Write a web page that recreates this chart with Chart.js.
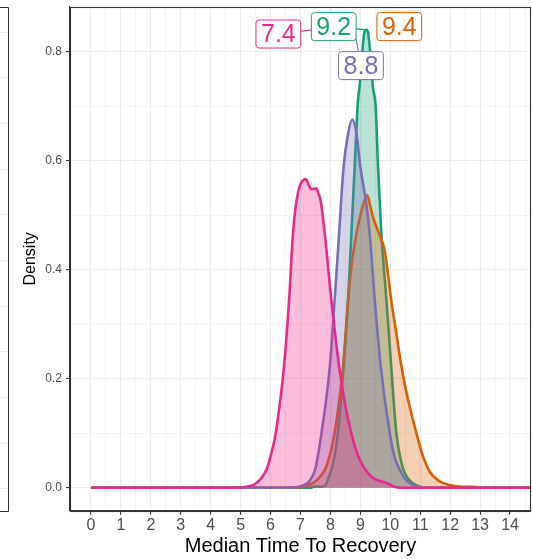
<!DOCTYPE html>
<html>
<head>
<meta charset="utf-8">
<script src="https://cdn.jsdelivr.net/npm/chart.js@4.4.1/dist/chart.umd.min.js"></script>
<style>
  html, body { margin: 0; padding: 0; background: #fff; }
  #wrap { width: 533px; height: 559px; }
</style>
</head>
<body>
<div id="wrap"><canvas id="chart" width="533" height="559"></canvas></div>
<script>
// density curves: x = median time to recovery, y = density
const greenX = [0, 7.3, 7.55, 7.7, 7.82, 7.95, 8.09, 8.25, 8.44, 8.59, 8.7, 8.81, 8.92, 8.98, 9.05, 9.13, 9.2, 9.26, 9.34, 9.42, 9.51, 9.59, 9.7, 9.87, 10.03, 10.2, 10.4, 10.55, 10.75, 11.0, 11.3, 14.7];
const greenY = [0, 0, 0.003, 0.002, 0.004, 0.02, 0.045, 0.101, 0.223, 0.345, 0.467, 0.589, 0.711, 0.74, 0.79, 0.835, 0.8406, 0.835, 0.79, 0.735, 0.70, 0.589, 0.467, 0.345, 0.223, 0.101, 0.04, 0.02, 0.009, 0.002, 0, 0];

const orangeX = [0, 6.8, 7.1, 7.4, 7.65, 7.87, 8.14, 8.42, 8.59, 8.7, 8.87, 9.0, 9.14, 9.23, 9.32, 9.42, 9.6, 9.81, 9.89, 10.03, 10.2, 10.37, 10.59, 10.87, 11.05, 11.31, 11.64, 11.98, 12.4, 12.8, 13.1, 14.7];
const orangeY = [0, 0, 0.002, 0.008, 0.02, 0.04, 0.101, 0.223, 0.345, 0.406, 0.467, 0.5, 0.528, 0.537, 0.52, 0.497, 0.47, 0.436, 0.406, 0.345, 0.284, 0.223, 0.162, 0.101, 0.065, 0.03, 0.012, 0.005, 0.002, 0.002, 0, 0];

const purpleX = [0, 6.6, 6.95, 7.15, 7.31, 7.5, 7.7, 7.98, 8.14, 8.29, 8.44, 8.59, 8.73, 8.87, 9.0, 9.1, 9.18, 9.31, 9.48, 9.68, 9.98, 10.15, 10.3, 10.45, 10.64, 10.9, 11.2, 14.7];
const purpleY = [0, 0, 0.002, 0.006, 0.013, 0.036, 0.1, 0.223, 0.345, 0.467, 0.589, 0.65, 0.676, 0.65, 0.589, 0.555, 0.528, 0.467, 0.345, 0.223, 0.101, 0.055, 0.035, 0.02, 0.009, 0.002, 0, 0];

const pinkX = [0, 4.8, 5.2, 5.45, 5.65, 5.87, 6.03, 6.14, 6.3, 6.45, 6.62, 6.75, 6.87, 7.0, 7.1, 7.18, 7.27, 7.37, 7.53, 7.6, 7.67, 7.81, 8.03, 8.29, 8.5, 8.72, 8.9, 9.09, 9.42, 9.87, 10.2, 10.5, 14.7];
const pinkY = [0, 0, 0.002, 0.006, 0.015, 0.034, 0.064, 0.09, 0.15, 0.223, 0.345, 0.467, 0.528, 0.558, 0.565, 0.567, 0.556, 0.548, 0.55, 0.54, 0.528, 0.467, 0.345, 0.223, 0.15, 0.095, 0.062, 0.04, 0.018, 0.009, 0.001, 0, 0];

const xTicks = [0, 0.5, 1, 1.5, 2, 2.5, 3, 3.5, 4, 4.5, 5, 5.5, 6, 6.5, 7, 7.5, 8, 8.5, 9, 9.5, 10, 10.5, 11, 11.5, 12, 12.5, 13, 13.5, 14, 14.5];
const yTicks = [0, 0.1, 0.2, 0.3, 0.4, 0.5, 0.6, 0.7, 0.8];

// median labels (ggrepel style), anchored at the highest density
const medianText = ['7.4', '9.2', '9.4', '8.8'];
const medianX = [7.4, 9.2, 9.4, 8.8];
const labelPosX = [6.26, 8.11, 10.30, 9.02];
const labelPosY = [0.833, 0.8465, 0.8465, 0.775];
const peakY = 0.8406;

const FONT = 'Liberation Sans, Arial, Helvetica, sans-serif';
const colors = ['#E7298A', '#1B9E77', '#D95F02', '#7570B3']; // same order as medianText

const toPoints = (xs, ys) => xs.map((x, i) => ({ x: x, y: ys[i] }));

const fade = (hex) => {
    const n = parseInt(hex.slice(1), 16);
    return 'rgba(' + (n >> 16) + ',' + ((n >> 8) & 255) + ',' + (n & 255) + ',0.3)';
};

const curve = (xs, ys, color, order) => ({
    data: toPoints(xs, ys),
    borderColor: color,
    backgroundColor: fade(color),
    borderWidth: 2.6,
    pointRadius: 0,
    fill: 'origin',
    cubicInterpolationMode: 'monotone',
    order: order
});

// frame of the cut-off neighbour panel and the border of this one
const panelFrame = {
    id: 'panelFrame',
    beforeDraw(chart) {
        const { ctx, chartArea: a } = chart;
        ctx.save();
        ctx.strokeStyle = '#EBEBEB';
        ctx.lineWidth = 1;
        for (let k = 0; k <= 10; k++) {
            const y = Math.round(31.7 + k * 45.66) + 0.5;
            ctx.beginPath();
            ctx.moveTo(0, y);
            ctx.lineTo(8, y);
            ctx.stroke();
        }
        ctx.strokeStyle = '#333333';
        ctx.beginPath();
        ctx.moveTo(0, Math.round(a.top) + 0.5);
        ctx.lineTo(8.5, Math.round(a.top) + 0.5);
        ctx.lineTo(8.5, Math.round(a.bottom) + 0.5);
        ctx.lineTo(0, Math.round(a.bottom) + 0.5);
        ctx.stroke();
        ctx.restore();
    },
    afterDraw(chart) {
        const { ctx, chartArea: a } = chart;
        ctx.save();
        ctx.strokeStyle = '#333333';
        ctx.lineWidth = 1.1;
        ctx.strokeRect(Math.round(a.left) + 0.5, Math.round(a.top) + 0.5,
            Math.round(a.right - a.left) - 1, Math.round(a.bottom - a.top));
        ctx.restore();
    }
};

const medianLabels = {
    id: 'medianLabels',
    afterDatasetsDraw(chart) {
        const { ctx, scales: { x, y } } = chart;
        const size = 25, pad = 5, h = 28;
        ctx.save();
        ctx.font = size + 'px ' + FONT;
        const boxes = medianText.map((t, i) => {
            const w = ctx.measureText(t).width + pad * 2;
            return { t: t, w: w, cx: x.getPixelForValue(labelPosX[i]), cy: y.getPixelForValue(labelPosY[i]),
                ax: x.getPixelForValue(medianX[i]), ay: y.getPixelForValue(peakY), color: colors[i] };
        });
        // segments first, boxes cover their inner part
        boxes.forEach(b => {
            const dx = Math.max(0, Math.abs(b.ax - b.cx) - b.w / 2);
            const dy = Math.max(0, Math.abs(b.ay - b.cy) - h / 2);
            if (Math.hypot(dx, dy) < 7) return;
            ctx.strokeStyle = b.color;
            ctx.lineWidth = 1.1;
            ctx.beginPath();
            ctx.moveTo(b.cx, b.cy);
            ctx.lineTo(b.ax, b.ay);
            ctx.stroke();
        });
        boxes.forEach(b => {
            const l = b.cx - b.w / 2, t = b.cy - h / 2;
            ctx.beginPath();
            ctx.roundRect(l, t, b.w, h, 3);
            ctx.fillStyle = '#ffffff';
            ctx.fill();
            ctx.strokeStyle = b.color;
            ctx.lineWidth = 1;
            ctx.stroke();
            ctx.fillStyle = b.color;
            ctx.textAlign = 'center';
            ctx.textBaseline = 'middle';
            ctx.fillText(b.t, b.cx, b.cy + 1);
        });
        ctx.restore();
    }
};

const isMajorX = (v) => Number.isInteger(v);
const isMajorY = (i) => i % 2 === 0;

new Chart(document.getElementById('chart').getContext('2d'), {
    type: 'line',
    data: {
        datasets: [
            curve(pinkX, pinkY, colors[0], 0),
            curve(purpleX, purpleY, colors[3], 1),
            curve(orangeX, orangeY, colors[2], 2),
            curve(greenX, greenY, colors[1], 3)
        ]
    },
    options: {
        responsive: false,
        animation: false,
        devicePixelRatio: 1,
        layout: { padding: { left: 0, top: 7, right: 2, bottom: 0 } },
        plugins: {
            legend: { display: false },
            tooltip: { enabled: false }
        },
        scales: {
            x: {
                type: 'linear',
                min: -0.7,
                max: 14.7,
                afterBuildTicks: (scale) => { scale.ticks = xTicks.map(v => ({ value: v })); },
                afterFit: (scale) => {
                    scale.height = 48.3;
                    scale.paddingLeft = 0;
                    scale.paddingRight = 0;
                },
                ticks: {
                    autoSkip: false,
                    maxRotation: 0,
                    padding: 1,
                    color: '#4D4D4D',
                    font: { family: FONT, size: 16 },
                    callback: (v) => isMajorX(v) ? String(v) : ''
                },
                grid: {
                    color: (c) => isMajorX(c.tick.value) ? '#EBEBEB' : '#F3F3F3',
                    lineWidth: (c) => isMajorX(c.tick.value) ? 1.1 : 1,
                    tickColor: (c) => isMajorX(c.tick.value) ? '#333333' : 'rgba(0,0,0,0)',
                    tickWidth: 1.1,
                    tickLength: 4
                },
                border: { display: true, color: '#333333', width: 1.1 },
                title: {
                    display: true,
                    text: 'Median Time To Recovery',
                    color: '#000000',
                    font: { family: FONT, size: 20 },
                    padding: { top: 0, bottom: 1 }
                }
            },
            y: {
                type: 'linear',
                min: -0.042,
                max: 0.8826,
                afterBuildTicks: (scale) => { scale.ticks = yTicks.map(v => ({ value: v })); },
                afterFit: (scale) => {
                    scale.width = 70;
                    scale.paddingTop = 0;
                    scale.paddingBottom = 0;
                },
                ticks: {
                    padding: 4,
                    color: '#4D4D4D',
                    font: { family: FONT, size: 12 },
                    callback: (v, i) => isMajorY(i) ? v.toFixed(1) : ''
                },
                grid: {
                    color: (c) => isMajorY(c.index) ? '#EBEBEB' : '#F3F3F3',
                    lineWidth: (c) => isMajorY(c.index) ? 1.1 : 1,
                    tickColor: (c) => isMajorY(c.index) ? '#333333' : 'rgba(0,0,0,0)',
                    tickWidth: 1.1,
                    tickLength: 4
                },
                border: { display: true, color: '#333333', width: 1.1 },
                title: {
                    display: true,
                    text: 'Density',
                    color: '#000000',
                    font: { family: FONT, size: 16 },
                    padding: { top: 21, bottom: 0 }
                }
            }
        }
    },
    plugins: [panelFrame, medianLabels]
});
</script>
</body>
</html>
